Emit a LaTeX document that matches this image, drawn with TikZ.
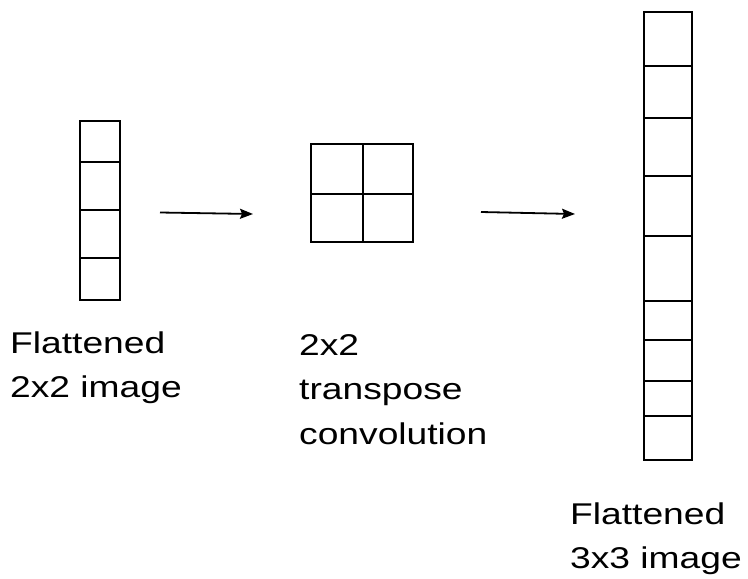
\documentclass[tikz,border=0pt]{standalone}
\usepackage{fontspec}
\setmainfont{Liberation Sans}
\newfontfamily\lblfont[FakeStretch=1.24]{Liberation Sans}
\usetikzlibrary{arrows.meta}
\begin{document}
\begin{tikzpicture}[x=1pt,y=-1pt,
  cell/.style={draw, line width=2pt, inner sep=0pt},
  div/.style={line width=2pt},
  lbl/.style={font=\lblfont\fontsize{30}{44.5}\selectfont, align=left, anchor=base west, inner sep=0pt},
  arr/.style={line width=1.8pt, -{Stealth[length=13pt,width=10pt,inset=2pt]}}]
\useasboundingbox (0,0) rectangle (748,579);
% flattened 2x2 image
\node[cell, minimum width=40pt, minimum height=179pt] (img1) at (100,210.5) {};
\foreach \y in {162,210,258}
  \draw[div] (img1.west |- 0,\y) -- (img1.east |- 0,\y);
% 2x2 transpose convolution
\node[cell, minimum width=102pt, minimum height=98pt] (conv) at (362,193) {};
\draw[div] (conv.west |- 0,194) -- (conv.east |- 0,194);
\draw[div] (conv.north -| 363,0) -- (conv.south -| 363,0);
% flattened 3x3 image
\node[cell, minimum width=48pt, minimum height=448pt] (img2) at (668,236) {};
\foreach \y in {66,118,176,236,301,340,381,416}
  \draw[div] (img2.west |- 0,\y) -- (img2.east |- 0,\y);
% arrows
\coordinate (a1s) at (160,212.5);
\coordinate (a1e) at (253,214);
\coordinate (a2s) at (481,212);
\coordinate (a2e) at (575,214);
\draw[arr] (a1s) -- (a1e);
\draw[arr] (a2s) -- (a2e);
% labels (base anchor = baseline of the last line)
\node[lbl] (t1) at (10,397.5) {Flattened\\2x2 image};
\node[lbl] (t2) at (299,444) {2x2\\transpose\\convolution};
\node[lbl] (t3) at (570,568.5) {Flattened\\3x3 image};
\end{tikzpicture}
\end{document}
